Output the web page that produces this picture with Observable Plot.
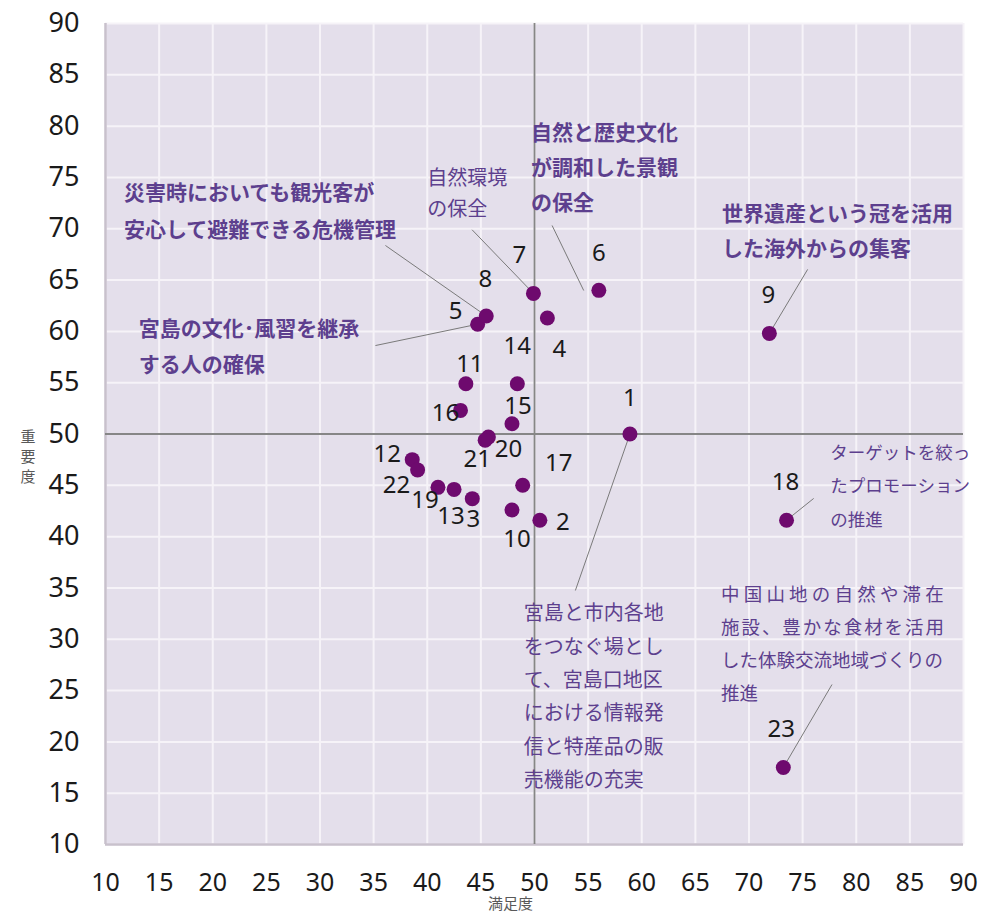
<!DOCTYPE html>
<html><head><meta charset="utf-8">
<script src="https://cdn.jsdelivr.net/npm/d3@7"></script>
<script src="https://cdn.jsdelivr.net/npm/@observablehq/plot@0.6"></script>
<style>body{margin:0;background:#fff;}</style>
</head><body><div id="chart"></div>
<script>
// ---- data ----
const ids = [1,2,3,4,5,6,7,8,9,10,11,12,13,14,15,16,17,18,19,20,21,22,23];
const satisfaction = [58.9, 50.5, 44.2, 51.2, 44.7, 56.0, 49.9, 45.5, 71.9, 47.9, 43.6, 38.6, 42.5, 48.4, 47.9, 43.1, 48.9, 73.5, 41.0, 45.7, 45.4, 39.1, 73.2];
const importance   = [50.0, 41.6, 43.7, 61.3, 60.7, 64.0, 63.7, 61.5, 59.8, 42.6, 54.9, 47.5, 44.6, 54.9, 51.0, 52.3, 45.0, 41.6, 44.8, 49.7, 49.4, 46.5, 17.5];
const ticks = [10,15,20,25,30,35,40,45,50,55,60,65,70,75,80,85,90];
const xTitle = "満足度";
const yTitle = "重要度";
const noteTexts = [
  "災害時においても観光客が\n安心して避難できる危機管理",
  "宮島の文化･風習を継承\nする人の確保",
  "自然環境\nの保全",
  "自然と歴史文化\nが調和した景観\nの保全",
  "世界遺産という冠を活用\nした海外からの集客",
  "ターゲットを絞っ\nたプロモーション\nの推進",
  "中国山地の自然や滞在\n施設、豊かな食材を活用\nした体験交流地域づくりの\n推進",
  "宮島と市内各地\nをつなぐ場とし\nて、宮島口地区\nにおける情報発\n信と特産品の販\n売機能の充実"
];
const noteTargets = [8, 5, 7, 6, 9, 18, 23, 1];

// ---- layout (positions / styles) ----
const labelOffsets = [[0,-36],[23,2],[1,21],[12,31],[-22,-13],[0,-37],[-14,-38],[-1,-37],[-1,-38],[5,29],[4,-19],[-25,-5],[-3,27],[0,-37],[6,-17],[-15,3],[36,-22],[-1,-38],[-13,13],[20,12],[-8,19],[-21,15],[-2,-38]];
const noteLayout = [
  {tx: 11.72, ty: 73.45, fs: 21, lh: 37, bold: true,  sx: 36.10, sy: 68.37},
  {tx: 13.10, ty: 60.18, fs: 21, lh: 36, bold: true,  sx: 35.17, sy: 58.62},
  {tx: 39.99, ty: 74.90, fs: 20, lh: 31, bold: false, sx: 44.18, sy: 69.90},
  {tx: 49.68, ty: 79.28, fs: 21, lh: 35, bold: true,  sx: 51.64, sy: 70.32, ex: 54.59, ey: 63.98},
  {tx: 67.49, ty: 71.43, fs: 21, lh: 35.5, bold: true, sx: 75.47, sy: 66.04},
  {tx: 77.58, ty: 48.13, fs: 17.5, lh: 33.6, bold: false, sx: 76.03, sy: 43.72},
  {tx: 67.39, ty: 34.26, fs: 18.5, lh: 33, bold: false, sx: 77.74, sy: 25.59},
  {tx: 48.99, ty: 32.48, fs: 20, lh: 33.4, bold: false, sx: 53.81, sy: 34.75}
];
const letterSpacing = {"中国山地の自然や滞在": 4.2, "施設、豊かな食材を活用": 1.95};

const points = ids.map((id, i) => ({id, x: satisfaction[i], y: importance[i]}));
const byId = new Map(points.map(p => [p.id, p]));
const leaders = noteLayout.map((L, k) => {
  const t = byId.get(noteTargets[k]);
  return {x1: L.sx, y1: L.sy, x2: L.ex ?? t.x, y2: L.ey ?? t.y};
});

const jp = "'Noto Sans CJK JP', 'Noto Sans', sans-serif";
const marks = [
  Plot.frame({fill: "#e4dfeb", stroke: null}),
  Plot.gridX(ticks, {stroke: "#f6f3f8", strokeOpacity: 1, strokeWidth: 2}),
  Plot.gridY(ticks, {stroke: "#f6f3f8", strokeOpacity: 1, strokeWidth: 2}),
  Plot.ruleX([10], {stroke: "#c8c1cc", strokeWidth: 2.5}),
  Plot.ruleY([10], {stroke: "#c8c1cc", strokeWidth: 2.5}),
  Plot.ruleX([50], {stroke: "#868686", strokeWidth: 1.8}),
  Plot.ruleY([50], {stroke: "#868686", strokeWidth: 1.8}),
  Plot.axisX(ticks, {tickSize: 0, tickPadding: 29, fontSize: 25, fill: "#1a1a1a", label: null, fontFamily: "'Noto Sans', sans-serif"}),
  Plot.axisY(ticks, {tickSize: 0, tickPadding: 26, fontSize: 27, fill: "#1a1a1a", label: null, fontFamily: "'Noto Sans', sans-serif"}),
  Plot.link(leaders, {x1: "x1", y1: "y1", x2: "x2", y2: "y2", stroke: "#7a7a7a", strokeWidth: 1}),
  Plot.dot(points, {x: "x", y: "y", r: 7.5, fill: "#6e0a6e", stroke: null})
];
points.forEach((p, i) => {
  marks.push(Plot.text([p], {x: "x", y: "y", text: d => String(d.id), dx: labelOffsets[i][0], dy: labelOffsets[i][1],
    fontSize: 24, fill: "#1a1a1a", fontFamily: "'Noto Sans', sans-serif"}));
});
noteTexts.forEach((txt, k) => {
  const L = noteLayout[k];
  txt.split("\n").forEach((line, i) => {
    marks.push(Plot.text([L], {x: "tx", y: "ty", text: () => line, textAnchor: "start", dy: i * L.lh,
      fontSize: L.fs, fontWeight: L.bold ? 700 : 400, fill: "#5d3f8e", fontFamily: jp}));
  });
});
marks.push(Plot.text([xTitle], {text: d => d, frameAnchor: "bottom", dx: -24, dy: 64, fontSize: 15, fill: "#595959", fontFamily: jp}));
yTitle.split("").forEach((ch, i) => {
  marks.push(Plot.text([ch], {text: d => d, frameAnchor: "left", dx: -85, dy: 3 + i * 20, fontSize: 15, fill: "#595959", fontFamily: jp}));
});

const svg = Plot.plot({
  width: 984, height: 914,
  marginLeft: 105, marginRight: 21, marginTop: 23, marginBottom: 70,
  x: {domain: [10, 90]},
  y: {domain: [10, 90]},
  style: {fontFamily: jp, background: "#fff"},
  marks
});
d3.select(svg).selectAll("text").each(function() {
  const s = letterSpacing[this.textContent];
  if (s) this.setAttribute("letter-spacing", s);
});
document.getElementById("chart").appendChild(svg);
</script>
</body></html>
